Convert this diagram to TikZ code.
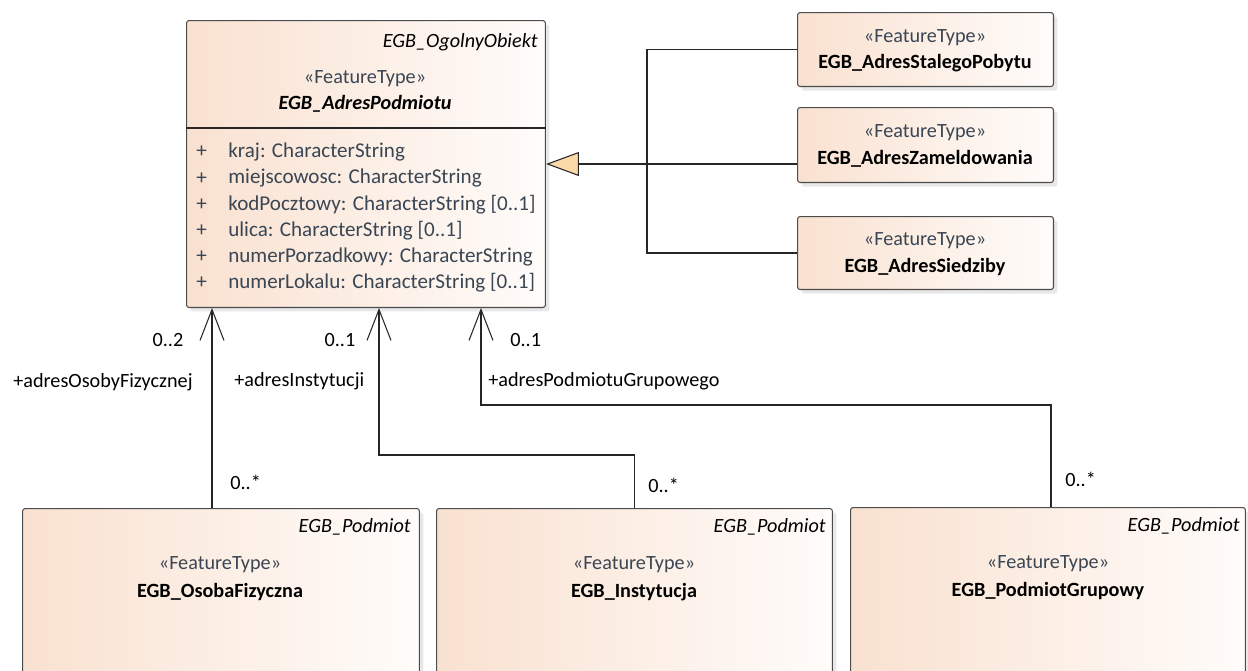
\documentclass[tikz,border=0pt]{standalone}
\usepackage{fontspec}
\setmainfont{Carlito}
\usetikzlibrary{arrows.meta,shadows,positioning}
\definecolor{klasaL}{RGB}{249,225,208}
\definecolor{klasaP}{RGB}{255,252,250}
\definecolor{szary}{RGB}{58,70,84}
\definecolor{trojkat}{RGB}{250,218,168}
\tikzset{
	klasa/.style={rectangle, rounded corners=1.5pt, draw=black!70, line width=0.6pt,
		left color=klasaL, right color=klasaP, anchor=north west, inner sep=0pt,
		drop shadow={shadow xshift=0.08cm, shadow yshift=-0.08cm, opacity=0.18}},
	stereotyp/.style={text=szary, font=\fontsize{11.5}{14}\selectfont, inner sep=0pt},
	nazwa/.style={font=\fontsize{11.5}{14}\selectfont\bfseries, inner sep=0pt},
	rodzic/.style={font=\fontsize{11.5}{14}\selectfont\itshape, anchor=east, inner sep=0pt},
	atrybut/.style={text=szary, font=\fontsize{12}{14}\selectfont, anchor=west, inner sep=0pt},
	opis/.style={font=\fontsize{11.5}{14}\selectfont, inner sep=0pt},
	linia/.style={draw=black!85, line width=0.6pt},
	asocjacja/.style={linia, -{Straight Barb[length=0.62cm, width=0.48cm, line width=0.6pt]}},
	uogolnienie/.style={linia, -{Triangle[length=0.66cm, width=0.48cm, fill=trojkat]}}
}
\begin{document}
\begin{tikzpicture}[x=0.02cm, y=-0.02cm]
	\useasboundingbox (0,0) rectangle (1248,670);
	\clip (0,0) rectangle (1248,670);

	% klasa glowna
	\node[klasa, minimum width=7.18cm, minimum height=5.74cm] (adres) at (186,20) {};
	\draw[linia] (adres.west |- 0,128) -- (adres.east |- 0,128);
	\node[rodzic] (adresrodzic) at (538,42) {EGB\_OgolnyObiekt};
	\node[stereotyp] (adresst) at (365,79) {«FeatureType»};
	\node[nazwa, font=\fontsize{11.5}{14}\selectfont\bfseries\itshape] (adresnazwa) at (365,104) {EGB\_AdresPodmiotu};
	\foreach \atr [count=\i] in {{kraj: CharacterString}, {miejscowosc: CharacterString},
		{kodPocztowy: CharacterString [0..1]}, {ulica: CharacterString [0..1]},
		{numerPorzadkowy: CharacterString}, {numerLokalu: CharacterString [0..1]}} {
		\node[atrybut] (plus\i) at (196,{152+26.2*(\i-1)}) {+};
		\node[atrybut] (atr\i) at (228,{152+26.2*(\i-1)}) {\atr};
	}

	% podklasy po prawej
	\node[klasa, minimum width=5.12cm, minimum height=1.48cm] (stale) at (797,12) {};
	\node[stereotyp] (stalest) at (925,38) {«FeatureType»};
	\node[nazwa] (stalenazwa) at (925,63) {EGB\_AdresStalegoPobytu};

	\node[klasa, minimum width=5.12cm, minimum height=1.5cm] (zamel) at (797,107) {};
	\node[stereotyp] (zamelst) at (925,133) {«FeatureType»};
	\node[nazwa] (zamelnazwa) at (925,159) {EGB\_AdresZameldowania};

	\node[klasa, minimum width=5.12cm, minimum height=1.46cm] (siedz) at (797,216) {};
	\node[stereotyp] (siedzst) at (925,241) {«FeatureType»};
	\node[nazwa] (siedznazwa) at (925,267) {EGB\_AdresSiedziby};

	\coordinate (rozw) at (647,164);
	\draw[linia] (stale.west) -| (rozw) |- (siedz.west);
	\draw[uogolnienie] (zamel.west |- adres.east) -- (adres.east);

	% podmioty na dole
	\node[klasa, minimum width=7.94cm, minimum height=4cm] (osoba) at (22,508) {};
	\node[rodzic] (osobarodzic) at (411,527) {EGB\_Podmiot};
	\node[stereotyp] (osobast) at (220,565) {«FeatureType»};
	\node[nazwa] (osobanazwa) at (220,592) {EGB\_OsobaFizyczna};

	\node[klasa, minimum width=7.92cm, minimum height=4cm] (inst) at (436,508) {};
	\node[rodzic] (instrodzic) at (826,527) {EGB\_Podmiot};
	\node[stereotyp] (instst) at (634,565) {«FeatureType»};
	\node[nazwa] (instnazwa) at (634,592) {EGB\_Instytucja};

	\node[klasa, minimum width=7.9cm, minimum height=4cm] (grupa) at (850,507) {};
	\node[rodzic] (gruparodzic) at (1240,526) {EGB\_Podmiot};
	\node[stereotyp] (grupast) at (1048,564) {«FeatureType»};
	\node[nazwa] (grupanazwa) at (1048,591) {EGB\_PodmiotGrupowy};

	% asocjacje
	\draw[asocjacja] (osoba.north -| 212,0) -- (adres.south -| 212,0);
	\draw[asocjacja] (inst.north) |- (379,455) -- (adres.south -| 379,0);
	\draw[asocjacja] (grupa.north -| 1051,0) |- (481,405) -- (adres.south -| 481,0);

	\node[opis] (kr1) at (168,340) {0..2};
	\node[opis, anchor=east] (rola1) at (193,382) {+adresOsobyFizycznej};
	\node[opis, anchor=west] (kd1) at (230,482) {0..*};
	\node[opis] (kr2) at (340,340) {0..1};
	\node[opis, anchor=west] (rola2) at (234,381) {+adresInstytucji};
	\node[opis, anchor=west] (kd2) at (648,485) {0..*};
	\node[opis, anchor=west] (kr3) at (510,340) {0..1};
	\node[opis, anchor=west] (rola3) at (488,381) {+adresPodmiotuGrupowego};
	\node[opis, anchor=west] (kd3) at (1065,479) {0..*};
\end{tikzpicture}
\end{document}
